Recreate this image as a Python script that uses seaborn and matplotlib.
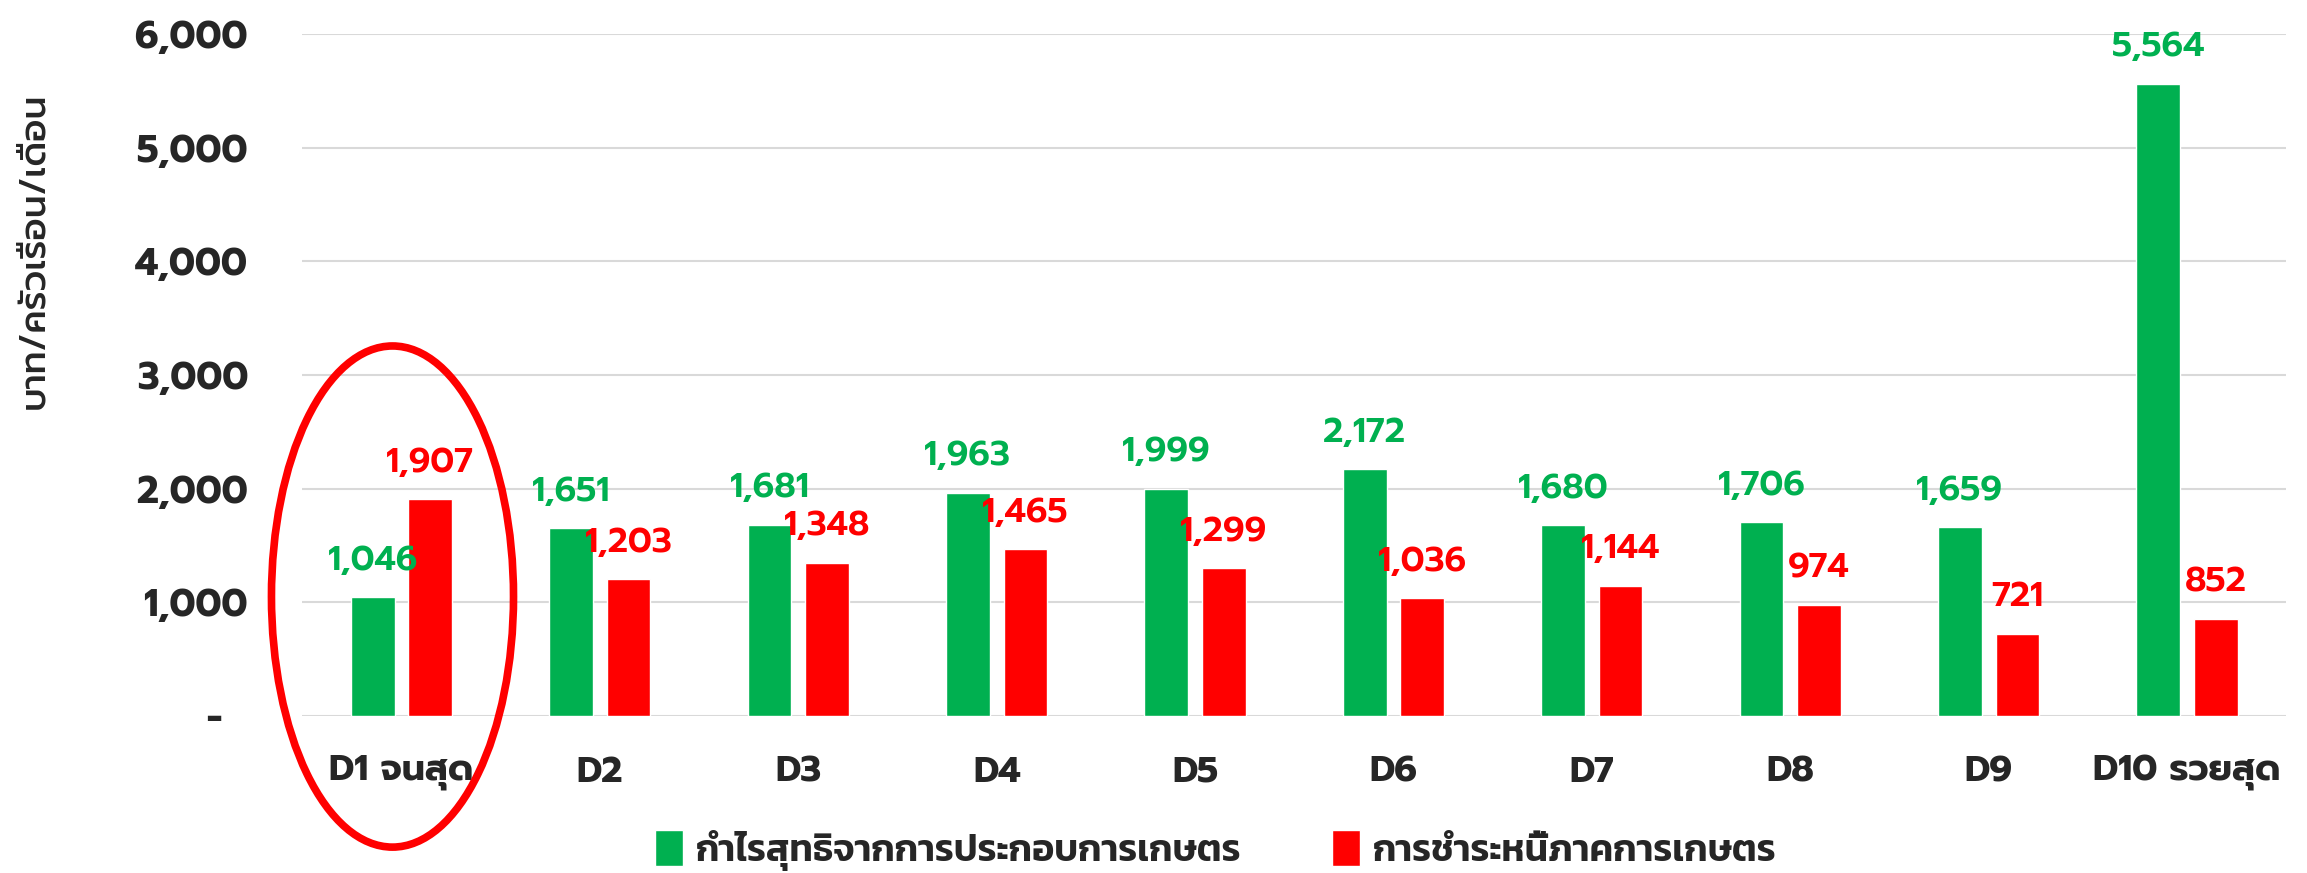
import numpy as np
import pandas as pd
import matplotlib
matplotlib.use("Agg")
import matplotlib.pyplot as plt
from matplotlib.patches import Ellipse
import seaborn as sns

# data
deciles = ["D1 จนสุด", "D2", "D3", "D4", "D5", "D6", "D7", "D8", "D9", "D10 รวยสุด"]
profit = [1046, 1651, 1681, 1963, 1999, 2172, 1680, 1706, 1659, 5564]
debt = [1907, 1203, 1348, 1465, 1299, 1036, 1144, 974, 721, 852]
series_names = ["กำไรสุทธิจากการประกอบการเกษตร", "การชำระหนี้ภาคการเกษตร"]
colors = ["#00B050", "#FF0000"]
y_ticks = [0, 1000, 2000, 3000, 4000, 5000, 6000]
y_ticklabels = ["-  ", "1,000", "2,000", "3,000", "4,000", "5,000", "6,000"]

df = pd.DataFrame({
    "decile": deciles * 2,
    "value": profit + debt,
    "series": [series_names[0]] * len(deciles) + [series_names[1]] * len(deciles),
})

sns.set_style("white")
plt.rcParams["font.family"] = ["Prompt", "Kanit", "DejaVu Sans"]

fig = plt.figure(figsize=(23.07, 8.73), dpi=100)
ax = fig.add_axes([0.131, 0.18, 0.860, 0.781])

sns.barplot(data=df, x="decile", y="value", hue="series", palette=colors,
            width=0.58, gap=0.24, saturation=1, ax=ax, legend=True)

ax.set_ylim(0, 6000)
ax.set_xlim(-0.5, 9.5)
ax.set_yticks(y_ticks)
ax.set_yticklabels(y_ticklabels, fontsize=27, fontweight="bold")
ax.tick_params(axis="y", length=0, pad=39)
ax.tick_params(axis="x", length=0, pad=28, labelsize=26)
for t in ax.get_xticklabels():
    t.set_fontweight("bold")
ax.set_xlabel("")
ax.set_ylabel("")
ax.yaxis.grid(True, color="#d9d9d9", linewidth=1.5)
ax.set_axisbelow(True)
for s in ax.spines.values():
    s.set_visible(False)

for cont, col in zip(ax.containers, colors):
    ax.bar_label(cont, labels=[f"{v:,.0f}" for v in cont.datavalues],
                 padding=14, color=col, fontsize=25, fontweight="semibold")

fig.text(0.0145, 0.713, "บาท/ครัวเรือน/เดือน", rotation=90, ha="center", va="center",
         fontsize=26, fontweight="medium")

handles, labels = ax.get_legend_handles_labels()
ax.legend_.remove()
fig.legend(handles, labels, loc="center", bbox_to_anchor=(0.527, 0.026), ncol=2,
           frameon=False, handlelength=0.75, handleheight=1.1,
           columnspacing=2.4, handletextpad=0.35,
           prop={"family": ["Kanit"], "weight": "semibold", "size": 27})

# red circle highlighting the poorest decile
ell = Ellipse((-0.045, 1050), 1.22, 4410, fill=False, edgecolor="#FF0000",
              linewidth=5.5, clip_on=False)
ax.add_patch(ell)

fig.savefig("out.png", dpi=100)
